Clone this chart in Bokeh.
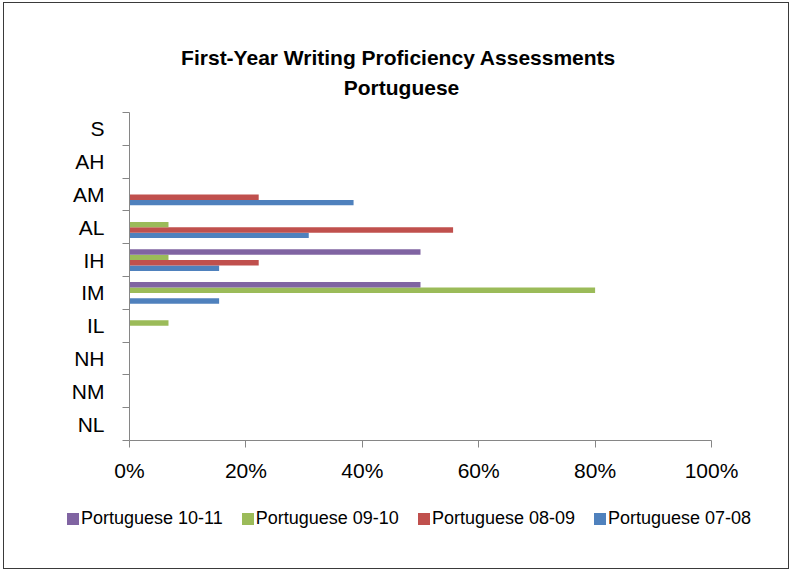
from bokeh.plotting import figure
from bokeh.models import (Range1d, FixedTicker, NumeralTickFormatter, CustomJSTickFormatter,
                          Label, Legend, LegendItem, ColumnDataSource)
from bokeh.transform import dodge
from bokeh.embed import file_html
from bokeh.resources import INLINE

levels = ["NL", "NM", "NH", "IL", "IM", "IH", "AL", "AM", "AH", "S"]
series_names = ["Portuguese 07-08", "Portuguese 08-09", "Portuguese 09-10", "Portuguese 10-11"]
p0708 = [0, 0, 0, 0, 0.154, 0.154, 0.308, 0.385, 0, 0]
p0809 = [0, 0, 0, 0, 0, 0.222, 0.556, 0.222, 0, 0]
p0910 = [0, 0, 0, 0.067, 0.80, 0.067, 0.067, 0, 0, 0]
p1011 = [0, 0, 0, 0, 0.50, 0.50, 0, 0, 0, 0]
colors = ["#4F81BD", "#C0504D", "#9BBB59", "#8064A2"]
x_ticks = [0, 0.2, 0.4, 0.6, 0.8, 1.0]
title_lines = ["First-Year Writing Proficiency  Assessments", "Portuguese"]

FONT = "Liberation Sans"

# layout (pixels on the canvas): plot area where x in [0,1], y in [0,10]
W, H = 786, 567
PX_L, PX_R = 125, 707      # canvas x of 0% and 100%
PY_T, PY_B = 109, 437      # canvas y (from top) of the top and bottom of the category axis
n = len(levels)
sx = (PX_R - PX_L) / 1.0
sy = (PY_B - PY_T) / n
x0 = -PX_L / sx
x1 = x0 + W / sx
y1 = n + PY_T / sy
y0 = y1 - H / sy

src = ColumnDataSource(dict(
    y=[i + 0.5 for i in range(n)],
    s0=p0708, s1=p0809, s2=p0910, s3=p1011,
))

p = figure(width=W, height=H, output_backend="svg", toolbar_location=None,
           x_range=Range1d(x0, x1), y_range=Range1d(y0, y1), min_border=0)
p.title = None
p.outline_line_color = None
p.xgrid.grid_line_color = None
p.ygrid.grid_line_color = None
p.background_fill_color = "white"
p.border_fill_color = "white"
p.styles = {"border": "1px solid #3a3a3a", "margin-left": "3px", "margin-top": "2px"}

bar_h = 0.165
offsets = [-1.5 * bar_h, -0.5 * bar_h, 0.5 * bar_h, 1.5 * bar_h]
renderers = []
for k in range(4):
    r = p.hbar(y=dodge("y", offsets[k], range=p.y_range), left=0, right="s%d" % k,
               height=bar_h, source=src, fill_color=colors[k], line_color=None)
    renderers.append(r)

# x axis
xa = p.xaxis[0]
xa.fixed_location = 0
xa.bounds = (0, 1)
xa.ticker = FixedTicker(ticks=x_ticks, minor_ticks=[])
xa.formatter = NumeralTickFormatter(format="0%")
xa.axis_line_color = "#868686"
xa.major_tick_line_color = "#868686"
xa.major_tick_out = 7
xa.major_tick_in = 0
xa.minor_tick_line_color = None
xa.major_label_text_font = FONT
xa.major_label_text_font_size = "21px"
xa.major_label_text_color = "black"
xa.major_label_standoff = 11

# y axis
ya = p.yaxis[0]
ya.fixed_location = 0
ya.bounds = (0, n)
ya.ticker = FixedTicker(ticks=[i + 0.5 for i in range(n)],
                        minor_ticks=list(range(n + 1)))
ya.formatter = CustomJSTickFormatter(args=dict(cats=levels),
                                     code="return cats[Math.floor(tick)];")
ya.axis_line_color = "#868686"
ya.major_tick_line_color = None
ya.major_tick_out = 7
ya.major_tick_in = 0
ya.minor_tick_line_color = "#868686"
ya.minor_tick_out = 7
ya.minor_tick_in = 0
ya.major_label_text_font = FONT
ya.major_label_text_font_size = "21px"
ya.major_label_text_color = "black"
ya.major_label_standoff = 18

# title (screen units from the canvas bottom-left)
for txt, yy in zip(title_lines, [H - 54, H - 84]):
    p.add_layout(Label(x=397, y=yy, x_units="screen", y_units="screen", text=txt,
                       text_font=FONT, text_font_style="bold", text_font_size="21px",
                       text_align="center", text_baseline="middle", text_color="black"))

legend = Legend(items=[LegendItem(label=series_names[k], renderers=[renderers[k]]) for k in [3, 2, 1, 0]],
                orientation="horizontal", location=(61, 41),
                label_text_font=FONT, label_text_font_size="18px", label_text_color="black",
                glyph_width=15, glyph_height=15, label_standoff=1, spacing=17,
                padding=0, margin=0, border_line_color=None, background_fill_alpha=0)
p.add_layout(legend, "center")

open("out.html", "w").write(file_html(p, INLINE))
